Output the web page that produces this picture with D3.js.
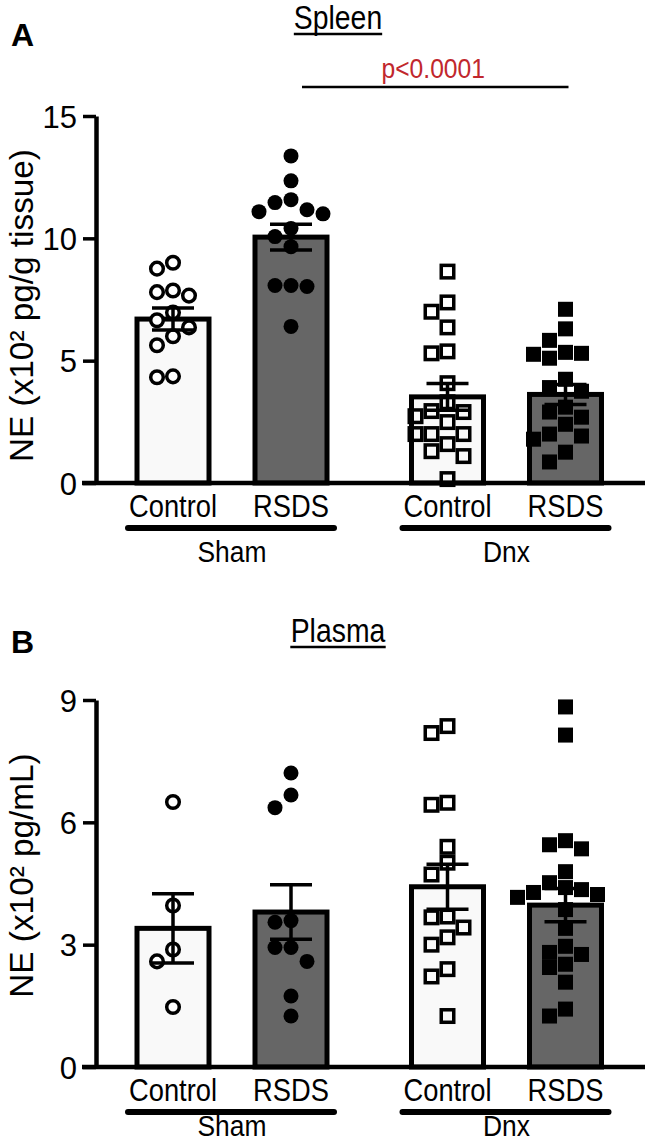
<!DOCTYPE html>
<html>
<head>
<meta charset="utf-8">
<script src="https://cdn.jsdelivr.net/npm/d3@7"></script>
<style>
  html, body { margin: 0; padding: 0; background: #fff; }
  svg { display: block; }
  text { font-family: "Liberation Sans", Arial, Helvetica, sans-serif; fill: #000; }
</style>
</head>
<body>
<svg id="chart" width="647" height="1142"></svg>
<script>
// ---------------- DATA ----------------
const groups = ["Sham", "Dnx"];
const conditions = ["Control", "RSDS"];

// Panel A: Spleen NE (x10^2 pg/g tissue)
const spleenShamControl = [9.0, 8.76, 7.87, 7.8, 7.66, 6.97, 6.65, 6.36, 6.0, 5.63, 4.36, 4.32];
const spleenShamRSDS = [13.37, 12.35, 11.58, 11.46, 11.17, 11.09, 11.0, 10.4, 10.07, 9.66, 8.07, 8.03, 8.07, 6.4];
const spleenDnxControl = [8.64, 7.38, 7.0, 6.36, 5.38, 5.3, 4.08, 3.3, 2.94, 2.9, 2.73, 2.49, 2.0, 2.0, 2.0, 1.59, 1.3, 1.1, 0.16];
const spleenDnxRSDS = [7.1, 6.3, 5.83, 5.34, 5.3, 5.26, 5.1, 4.24, 3.9, 3.75, 3.1, 2.9, 2.69, 2.4, 2.0, 1.92, 1.79, 1.26, 0.86];
const spleenMean = [6.7, 10.05, 3.52, 3.62];
const spleenSEM = [0.45, 0.53, 0.55, 0.41];
const spleenTicks = [0, 5, 10, 15];

// Panel B: Plasma NE (x10^2 pg/mL)
const plasmaShamControl = [6.5, 3.96, 2.88, 2.59, 1.47];
const plasmaShamRSDS = [7.21, 6.67, 6.36, 3.59, 3.55, 2.93, 2.93, 2.59, 1.74, 1.25];
const plasmaDnxControl = [8.36, 8.19, 6.48, 6.43, 5.4, 5.01, 4.72, 3.69, 3.67, 3.42, 3.18, 3.0, 2.4, 2.22, 1.25];
const plasmaDnxRSDS = [8.83, 8.14, 5.55, 5.45, 5.35, 4.79, 4.52, 4.4, 4.35, 4.28, 4.23, 4.16, 3.86, 3.4, 2.96, 2.81, 2.76, 2.52, 2.44, 2.08, 1.42, 1.25];
const plasmaMean = [3.4, 3.8, 4.42, 3.97];
const plasmaSEM = [0.85, 0.67, 0.55, 0.41];
const plasmaTicks = [0, 3, 6, 9];

const pText = "p<0.0001";

// ---------------- DRAWING ----------------
const svg = d3.select("#chart");
const FONT = '"Liberation Sans", Arial, Helvetica, sans-serif';

const xGroup = d3.scalePoint().domain(groups).range([232, 506.5]);
const xCond = d3.scalePoint().domain(conditions).range([-59, 59]);
const xCenter = (g, c) => xGroup(g) + xCond(c);
const barW = 72;
const axisX = 96;

// condensed text helper (reference type is slightly narrow)
function ctext(sel, x, y, str, size, sx, anchor) {
  return sel.append("text")
    .attr("transform", `translate(${x},${y}) scale(${sx},1)`)
    .attr("text-anchor", anchor || "middle")
    .attr("font-size", size)
    .text(str);
}

function swarm(values, y, cx, step, diam, square) {
  const pts = values.map(v => ({ v, y: y(v) })).sort((a, b) => a.y - b.y);
  const placed = [];
  for (const p of pts) {
    for (let k = 0; k < 60; k++) {
      const off = k === 0 ? 0 : (k % 2 ? -Math.ceil(k / 2) : Math.ceil(k / 2)) * step;
      const x = cx + off;
      const ok = placed.every(q => square
        ? (Math.abs(q.x - x) >= diam || Math.abs(q.y - p.y) >= diam)
        : Math.hypot(q.x - x, q.y - p.y) >= diam);
      if (ok) { p.x = x; placed.push(p); break; }
    }
  }
  return placed;
}

function drawPanel(cfg) {
  const g = svg.append("g");
  const y = d3.scaleLinear().domain([0, cfg.max]).range([cfg.y0, cfg.y1]);
  const xEnd = 645;

  const series = [
    { grp: "Sham", cond: "Control", vals: cfg.data[0], mean: cfg.mean[0], sem: cfg.sem[0] },
    { grp: "Sham", cond: "RSDS", vals: cfg.data[1], mean: cfg.mean[1], sem: cfg.sem[1] },
    { grp: "Dnx", cond: "Control", vals: cfg.data[2], mean: cfg.mean[2], sem: cfg.sem[2] },
    { grp: "Dnx", cond: "RSDS", vals: cfg.data[3], mean: cfg.mean[3], sem: cfg.sem[3] }
  ];

  // bars
  g.selectAll("rect.bar").data(series).join("rect")
    .attr("class", "bar")
    .attr("x", d => xCenter(d.grp, d.cond) - barW / 2)
    .attr("y", d => y(d.mean))
    .attr("width", barW)
    .attr("height", d => y(0) - y(d.mean))
    .attr("fill", d => d.cond === "Control" ? "#f9f9f9" : "#666666")
    .attr("stroke", "#000")
    .attr("stroke-width", 5);

  // points
  series.forEach(s => {
    const cx = xCenter(s.grp, s.cond);
    const isSq = s.grp === "Dnx";
    const open = s.cond === "Control";
    const pts = swarm(s.vals, y, cx, 16, 15, isSq);
    if (isSq) {
      const sz = open ? 12.5 : 15;
      g.selectAll(null).data(pts).join("rect")
        .attr("x", d => d.x - sz / 2).attr("y", d => d.y - sz / 2)
        .attr("width", sz).attr("height", sz)
        .attr("fill", open ? "none" : "#000")
        .attr("stroke", open ? "#000" : "none")
        .attr("stroke-width", 3.5);
    } else {
      g.selectAll(null).data(pts).join("circle")
        .attr("cx", d => d.x).attr("cy", d => d.y)
        .attr("r", open ? 6.3 : 7.5)
        .attr("fill", open ? "#fff" : "#000")
        .attr("stroke", open ? "#000" : "none")
        .attr("stroke-width", 3.5);
    }
  });

  // error bars (mean ± SEM)
  const cap = 21;
  series.forEach(s => {
    const cx = xCenter(s.grp, s.cond);
    const top = y(s.mean + s.sem), bot = y(s.mean - s.sem);
    const eb = g.append("g").attr("stroke", "#000").attr("stroke-width", 3.5);
    eb.append("line").attr("x1", cx).attr("x2", cx).attr("y1", top).attr("y2", bot);
    eb.append("line").attr("x1", cx - cap).attr("x2", cx + cap).attr("y1", top).attr("y2", top);
    eb.append("line").attr("x1", cx - cap).attr("x2", cx + cap).attr("y1", bot).attr("y2", bot);
  });

  // x axis line
  g.append("line").attr("x1", axisX - 14).attr("x2", xEnd)
    .attr("y1", y(0)).attr("y2", y(0))
    .attr("stroke", "#000").attr("stroke-width", 4.5);

  // y axis
  const ax = g.append("g").attr("transform", `translate(${axisX},0)`)
    .call(d3.axisLeft(y).tickValues(cfg.ticks).tickSize(13).tickSizeOuter(0).tickPadding(6));
  ax.select(".domain").attr("stroke", "#000").attr("stroke-width", 4.5);
  ax.selectAll(".tick line").attr("stroke", "#000").attr("stroke-width", 3.5);
  ax.selectAll(".tick text").attr("font-size", 31).attr("font-family", FONT).attr("fill", "#000")
    .attr("dy", "0.36em");

  // y label
  g.append("text")
    .attr("transform", `translate(33,${(cfg.y0 + cfg.y1) / 2 + cfg.labelShift}) rotate(-90) scale(0.98,1)`)
    .attr("text-anchor", "middle")
    .attr("font-size", 34)
    .text(cfg.yLabel);

  // category labels
  series.forEach(s => {
    ctext(g, xCenter(s.grp, s.cond), y(0) + 34, s.cond, 31, 0.88);
  });
  // group lines + labels
  groups.forEach(gr => {
    const xa = xCenter(gr, "Control") - 45, xb = xCenter(gr, "RSDS") + 43;
    g.append("line").attr("x1", xa).attr("x2", xb)
      .attr("y1", y(0) + 45).attr("y2", y(0) + 45)
      .attr("stroke", "#000").attr("stroke-width", 6).attr("stroke-linecap", "round");
    ctext(g, xGroup(gr), y(0) + cfg.groupDy, gr, 30, 0.88);
  });

  // title (underlined)
  const t = ctext(g, 338, cfg.titleY, cfg.title, 33, 0.86);
  const bb = t.node().getBBox();
  const w = bb.width * 0.86;
  g.append("line").attr("x1", 338 - w / 2).attr("x2", 338 + w / 2)
    .attr("y1", cfg.titleY + 5).attr("y2", cfg.titleY + 5)
    .attr("stroke", "#000").attr("stroke-width", 2.4);

  // panel letter
  g.append("text").attr("x", 11).attr("y", cfg.letterY)
    .attr("font-size", 32).attr("font-weight", "bold").text(cfg.letter);

  return { y, g };
}

const A = drawPanel({
  max: 15, y0: 483, y1: 116, ticks: spleenTicks,
  data: [spleenShamControl, spleenShamRSDS, spleenDnxControl, spleenDnxRSDS],
  mean: spleenMean, sem: spleenSEM, labelShift: 6,
  yLabel: "NE (x10² pg/g tissue)", title: "Spleen", titleY: 29, letter: "A", letterY: 46,
  groupDy: 79
});

// significance bar (Sham RSDS vs Dnx RSDS)
const sigY = 87;
A.g.append("line")
  .attr("x1", xCenter("Sham", "RSDS") + 11).attr("x2", xCenter("Dnx", "RSDS") + 3)
  .attr("y1", sigY).attr("y2", sigY)
  .attr("stroke", "#000").attr("stroke-width", 2.5);
ctext(A.g, (xCenter("Sham", "RSDS") + xCenter("Dnx", "RSDS")) / 2 + 5, 78, pText, 28, 0.88)
  .style("fill", "#c1272d");

drawPanel({
  max: 9, y0: 1067, y1: 700, ticks: plasmaTicks,
  data: [plasmaShamControl, plasmaShamRSDS, plasmaDnxControl, plasmaDnxRSDS],
  mean: plasmaMean, sem: plasmaSEM, labelShift: -8,
  yLabel: "NE (x10² pg/mL)", title: "Plasma", titleY: 642, letter: "B", letterY: 653,
  groupDy: 69
});
</script>
</body>
</html>
